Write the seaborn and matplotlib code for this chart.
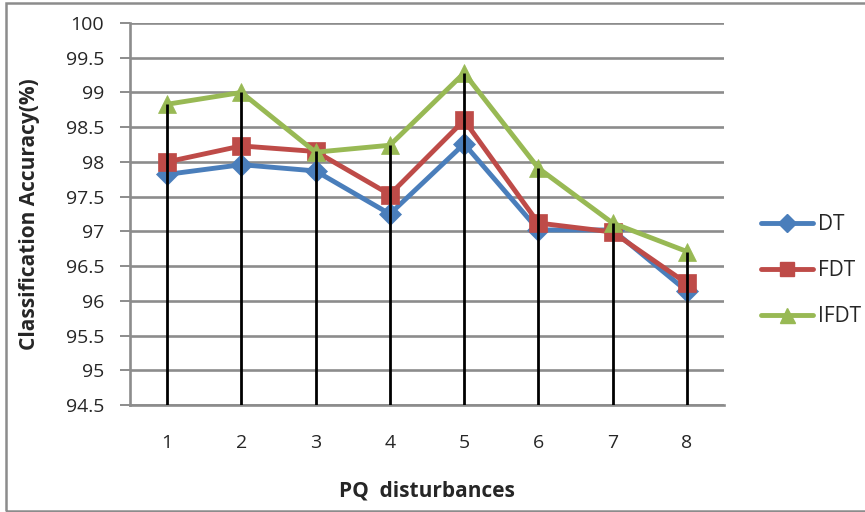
import matplotlib
matplotlib.use("Agg")
import matplotlib.pyplot as plt
import seaborn as sns
import pandas as pd
from matplotlib.patches import Rectangle

categories = [1, 2, 3, 4, 5, 6, 7, 8]
dt = [97.82, 97.96, 97.87, 97.25, 98.26, 97.02, 97.02, 96.14]
fdt = [98.00, 98.23, 98.15, 97.53, 98.60, 97.12, 96.99, 96.25]
ifdt = [98.83, 99.00, 98.14, 98.24, 99.28, 97.91, 97.12, 96.71]
series_names = ["DT", "FDT", "IFDT"]
y_ticks = [94.5, 95, 95.5, 96, 96.5, 97, 97.5, 98, 98.5, 99, 99.5, 100]

sns.set_theme(style="white")
plt.rcParams["font.family"] = ["Open Sans", "DejaVu Sans"]

df = pd.DataFrame({"PQ": categories * 3,
                   "acc": dt + fdt + ifdt,
                   "method": [n for n in series_names for _ in categories]})

fig = plt.figure(figsize=(8.65, 5.12), dpi=100)
ax = fig.add_axes([130 / 865, 1 - 405 / 512, 594 / 865, 382 / 512])

colors = {"DT": "#4A7EBB", "FDT": "#BE4B48", "IFDT": "#98B954"}
markers = {"DT": "D", "FDT": "s", "IFDT": "^"}
sizes = {"DT": 11.5, "FDT": 13, "IFDT": 13.5}
lw = 3.5

sns.lineplot(data=df, x="PQ", y="acc", hue="method", style="method",
             palette=colors, markers=markers, dashes=False, ax=ax,
             linewidth=lw, legend=False, zorder=3)
for line, name in zip(ax.lines, series_names):
    line.set_markersize(sizes[name])
    line.set_markeredgecolor(colors[name])
    line.set_markeredgewidth(0.5)

# drop lines from highest series value to axis bottom
maxes = [max(a, b, c) for a, b, c in zip(dt, fdt, ifdt)]
ax.vlines(categories, 94.5, maxes, color="black", linewidth=2.0, zorder=4)

ax.set_xlim(0.5, 8.5)
ax.set_ylim(94.5, 100)
ax.set_yticks(y_ticks)
ax.set_yticklabels([f"{v:g}" for v in y_ticks])
ax.set_xticks(categories)
ax.tick_params(axis="y", which="major", length=7, width=1.4, color="#8C8C8C",
               left=True, labelsize=14, pad=11.5)
ax.tick_params(axis="x", length=0, labelsize=14, pad=21)
ax.yaxis.grid(True, color="#8C8C8C", linewidth=1.9)
ax.xaxis.grid(False)
for s in ["top", "right"]:
    ax.spines[s].set_visible(False)
ax.spines["left"].set_color("#8C8C8C")
ax.spines["left"].set_linewidth(1.9)
ax.spines["bottom"].set_color("#8C8C8C")
ax.spines["bottom"].set_linewidth(1.9)
ax.set_axisbelow(True)

ax.set_xlabel("PQ  disturbances", fontsize=15, fontweight="bold")
ax.set_ylabel("Classification Accuracy(%)", fontsize=15, fontweight="bold")
ax.xaxis.set_label_coords(0.5, -0.198)
ax.yaxis.set_label_coords(-0.152, 0.5)

# legend
handles = [plt.Line2D([], [], color=colors[n], marker=markers[n], markersize=sizes[n] * 0.8,
                      markeredgecolor=colors[n], linewidth=lw) for n in series_names]
fig.legend(handles, series_names, loc="center left",
           bbox_to_anchor=(761 / 865, 1 - 271 / 512),
           frameon=False, fontsize=15, handlelength=2.5, labelspacing=1.2,
           handletextpad=0.25, borderaxespad=0, borderpad=0)

fig.patches.append(Rectangle((6 / 865, 1 / 512), 1.2, 508 / 512, transform=fig.transFigure,
                             fill=False, edgecolor="#8C8C8C", linewidth=1.8))

fig.savefig("out.png", dpi=100)
